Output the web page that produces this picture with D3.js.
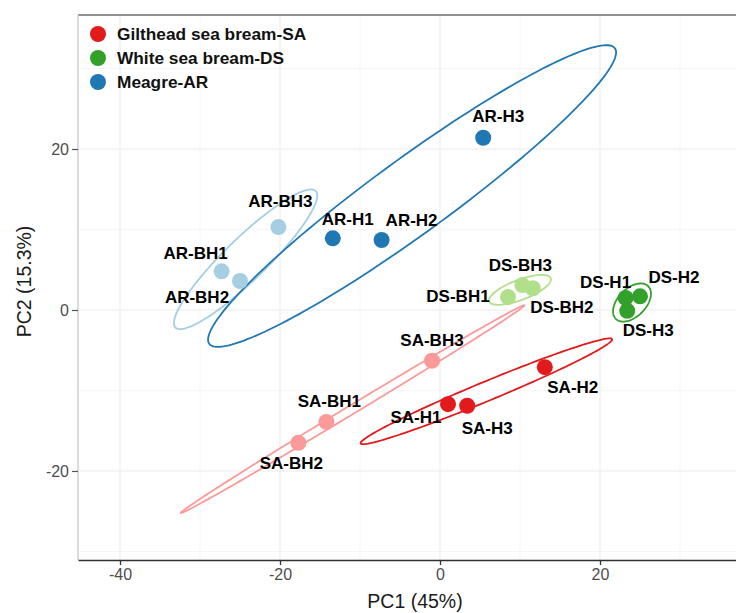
<!DOCTYPE html>
<html>
<head>
<meta charset="utf-8">
<script src="https://cdn.jsdelivr.net/npm/d3@7"></script>
<style>
  html, body { margin: 0; padding: 0; background: #fff; }
  svg { display: block; font-family: "Liberation Sans", Arial, sans-serif; }
</style>
</head>
<body>
<svg id="chart" width="736" height="613"></svg>
<script>
// ---------- DATA ----------
const samples = ["SA-H1","SA-H2","SA-H3","SA-BH1","SA-BH2","SA-BH3",
                 "DS-H1","DS-H2","DS-H3","DS-BH1","DS-BH2","DS-BH3",
                 "AR-H1","AR-H2","AR-H3","AR-BH1","AR-BH2","AR-BH3"];
const sampleGroups = ["SA-H","SA-H","SA-H","SA-BH","SA-BH","SA-BH",
                      "DS-H","DS-H","DS-H","DS-BH","DS-BH","DS-BH",
                      "AR-H","AR-H","AR-H","AR-BH","AR-BH","AR-BH"];
const pc1 = [1.0, 13.1, 3.4, -14.2, -17.7, -1.0,
             23.2, 25.0, 23.4, 8.5, 11.6, 10.3,
             -13.4, -7.3, 5.4, -27.3, -25.0, -20.2];
const pc2 = [-11.7, -7.1, -11.9, -13.9, -16.5, -6.3,
             1.5, 1.7, -0.1, 1.6, 2.7, 3.1,
             8.9, 8.7, 21.4, 4.8, 3.6, 10.3];

// confidence ellipses (centre, semi-axes, orientation in degrees)
const ellipseGroups = ["AR-BH","AR-H","DS-BH","DS-H","SA-BH","SA-H"];
const ellipseCx     = [-24.3, -3.49, 10.0, 24.0, -10.9, 5.8];
const ellipseCy     = [6.3, 14.16, 2.5, 0.93, -12.3, -10.1];
const ellipseA      = [12.2, 31.3, 4.1, 2.86, 25.07, 17.0];
const ellipseB      = [2.6, 4.68, 1.25, 1.74, 0.55, 1.2];
const ellipseAngle  = [44, 35.9, 20.6, 45, 31, 22.4];

const legendLabels = ["Gilthead sea bream-SA","White sea bream-DS","Meagre-AR"];
const legendGroups = ["SA-H","DS-H","AR-H"];

const xTicks = [-40, -20, 0, 20];
const yTicks = [-20, 0, 20];
const xMinor = [-30, -10, 10, 30];
const yMinor = [-30, -10, 10, 30];
const xTitle = "PC1 (45%)";
const yTitle = "PC2 (15.3%)";

// ---------- STYLE / LAYOUT ----------
const groupColor = {
  "SA-H": "#E31A1C", "SA-BH": "#FB9A99",
  "DS-H": "#33A02C", "DS-BH": "#B2DF8A",
  "AR-H": "#1F78B4", "AR-BH": "#A6CEE3"
};
// label offsets (pixels) relative to each point, mimicking repel placement
const labelDx = [-32, 28, 20, 3, -7, 0, -20, 34, 21, -50, 29, -2, 15, 30, 15, -26, -43, 2];
const labelDy = [13, 20, 22, -21, 20, -21, -16, -19, 19, -1, 19, -20, -19, -20, -22, -18, 16, -26];

const panel = {left: 78, right: 752, top: 15, bottom: 560};
const svg = d3.select("#chart");

const x = d3.scaleLinear().domain([-45.25, 39.0]).range([panel.left, panel.right]);
const y = d3.scaleLinear().domain([-31.06, 36.65]).range([panel.bottom, panel.top]);

const g = svg.append("g");

// grid
g.selectAll(".xminor").data(xMinor).join("line")
  .attr("x1", d => x(d)).attr("x2", d => x(d))
  .attr("y1", panel.top).attr("y2", panel.bottom)
  .attr("stroke", "#f4f4f4").attr("stroke-width", 0.8);
g.selectAll(".yminor").data(yMinor).join("line")
  .attr("y1", d => y(d)).attr("y2", d => y(d))
  .attr("x1", panel.left).attr("x2", panel.right)
  .attr("stroke", "#f4f4f4").attr("stroke-width", 0.8);
g.selectAll(".xmajor").data(xTicks).join("line")
  .attr("x1", d => x(d)).attr("x2", d => x(d))
  .attr("y1", panel.top).attr("y2", panel.bottom)
  .attr("stroke", "#ebebeb").attr("stroke-width", 1.1);
g.selectAll(".ymajor").data(yTicks).join("line")
  .attr("y1", d => y(d)).attr("y2", d => y(d))
  .attr("x1", panel.left).attr("x2", panel.right)
  .attr("stroke", "#ebebeb").attr("stroke-width", 1.1);

// panel border lines
g.append("line").attr("x1", panel.left).attr("x2", panel.right)
  .attr("y1", panel.top).attr("y2", panel.top)
  .attr("stroke", "#6e6e6e").attr("stroke-width", 1.3);
g.append("line").attr("x1", panel.left).attr("x2", panel.left)
  .attr("y1", panel.top).attr("y2", panel.bottom)
  .attr("stroke", "#d0d0d0").attr("stroke-width", 1.5);

// axes
const xAxis = d3.axisBottom(x).tickValues(xTicks).tickSize(5).tickSizeOuter(0).tickPadding(4)
  .tickFormat(d => d < 0 ? "-" + Math.abs(d) : d);
const gx = g.append("g").attr("transform", `translate(0,${panel.bottom})`).call(xAxis);
gx.select(".domain").attr("stroke", "#333").attr("stroke-width", 1.5);
gx.selectAll(".tick line").attr("stroke", "#333").attr("stroke-width", 1.3);
gx.selectAll(".tick text").attr("fill", "#4d4d4d").attr("font-size", 16)
  .attr("font-family", "Liberation Sans, Arial, sans-serif");

const yAxis = d3.axisLeft(y).tickValues(yTicks).tickSize(6).tickSizeOuter(0).tickPadding(3)
  .tickFormat(d => d < 0 ? "-" + Math.abs(d) : d);
const gy = g.append("g").attr("transform", `translate(${panel.left},0)`).call(yAxis);
gy.select(".domain").remove();
gy.selectAll(".tick line").attr("stroke", "#555").attr("stroke-width", 1.2);
gy.selectAll(".tick text").attr("fill", "#4d4d4d").attr("font-size", 16)
  .attr("font-family", "Liberation Sans, Arial, sans-serif");

// axis titles
svg.append("text").attr("x", (panel.left + panel.right) / 2).attr("y", 608)
  .attr("text-anchor", "middle").attr("font-size", 19.5).attr("fill", "#1a1a1a")
  .text(xTitle);
svg.append("text")
  .attr("transform", `translate(31,${(panel.top + panel.bottom) / 2 - 6}) rotate(-90)`)
  .attr("text-anchor", "middle").attr("font-size", 19.5).attr("fill", "#1a1a1a")
  .text(yTitle);

// ellipses
const ellipseLine = d3.line().x(d => x(d[0])).y(d => y(d[1]));
const thetas = d3.range(0, 361, 2).map(t => t * Math.PI / 180);
ellipseGroups.forEach((grp, i) => {
  const phi = ellipseAngle[i] * Math.PI / 180;
  const pts = thetas.map(t => {
    const u = ellipseA[i] * Math.cos(t), v = ellipseB[i] * Math.sin(t);
    return [ellipseCx[i] + u * Math.cos(phi) - v * Math.sin(phi),
            ellipseCy[i] + u * Math.sin(phi) + v * Math.cos(phi)];
  });
  g.append("path").attr("d", ellipseLine(pts))
    .attr("fill", "none").attr("stroke", groupColor[grp]).attr("stroke-width", 1.8);
});

// points
const idx = d3.range(samples.length);
g.selectAll(".pt").data(idx).join("circle")
  .attr("cx", i => x(pc1[i])).attr("cy", i => y(pc2[i])).attr("r", 8)
  .attr("fill", i => groupColor[sampleGroups[i]]);

// labels
g.selectAll(".lbl").data(idx).join("text")
  .attr("x", i => x(pc1[i]) + labelDx[i]).attr("y", i => y(pc2[i]) + labelDy[i])
  .attr("text-anchor", "middle").attr("dy", "0.36em")
  .attr("font-size", 17).attr("font-weight", "bold").attr("fill", "#000")
  .text(i => samples[i]);

// legend
const lg = svg.append("g");
legendLabels.forEach((lab, i) => {
  lg.append("circle").attr("cx", 98).attr("cy", 34 + i * 24).attr("r", 8)
    .attr("fill", groupColor[legendGroups[i]]);
  lg.append("text").attr("x", 117).attr("y", 34 + i * 24).attr("dy", "0.36em")
    .attr("font-size", 17.3).attr("font-weight", "bold").attr("fill", "#111")
    .text(lab);
});
</script>
</body>
</html>
